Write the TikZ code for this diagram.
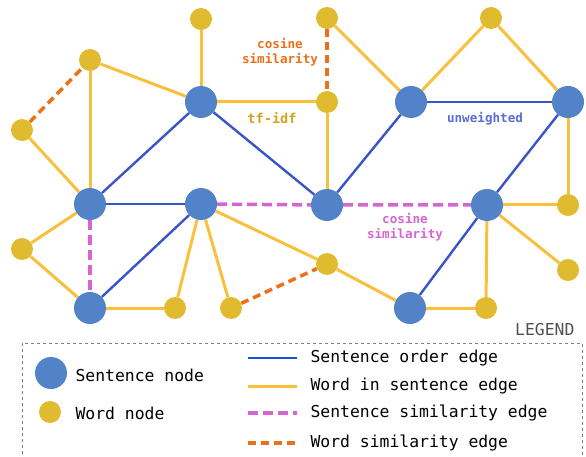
\documentclass[tikz,border=0pt]{standalone}
\usepackage{fontspec}
\setmonofont{DejaVu Sans Mono}
\usetikzlibrary{backgrounds}
\definecolor{sentblue}{HTML}{5282C7}
\definecolor{wordgold}{HTML}{E0BB30}
\definecolor{orderblue}{HTML}{3B55C9}
\definecolor{keyblue}{HTML}{1A4FDB}
\definecolor{wordline}{HTML}{F8C03C}
\definecolor{simpink}{HTML}{D864D4}
\definecolor{simorange}{HTML}{EC7019}
\definecolor{tfidfgold}{HTML}{CFA523}
\definecolor{keygray}{HTML}{505050}
\begin{document}
\begin{tikzpicture}[x=1pt,y=-1pt,
  sent/.style={circle,fill=sentblue,minimum size=32pt,inner sep=0pt},
  word/.style={circle,fill=wordgold,minimum size=22pt,inner sep=0pt},
  order/.style={draw=orderblue,line width=2.4pt},
  keyorder/.style={order,draw=keyblue},
  inword/.style={draw=wordline,line width=3pt},
  sentsim/.style={draw=simpink,line width=3.5pt,dash pattern=on 10pt off 5pt},
  wordsim/.style={draw=simorange,line width=3.5pt,dash pattern=on 8pt off 5pt},
  lbl/.style={font=\ttfamily\bfseries\fontsize{12.6}{15}\selectfont,align=center},
  key/.style={font=\ttfamily\fontsize{16.4}{18}\selectfont,anchor=west}]
\useasboundingbox (0,0) rectangle (586,457);
% sentence and word nodes
\foreach \n/\x/\y in {1/201/102,2/411/102,3/568/102,4/90/204,5/201/204,6/327/205,7/487/205,8/90/308,9/410/308}
  \node[sent] (s\n) at (\x,\y) {};
\foreach \n/\x/\y in {1/201/19,2/327/18,3/491/18,4/90/60,5/22/130,6/327/102,7/22/249,8/175/308,9/231/308,10/327/264,11/568/205,12/568/270,13/486/308}
  \node[word] (w\n) at (\x,\y) {};
% edges go under the nodes
\begin{scope}[on background layer]
\foreach \a/\b in {w1/s1,w4/s1,w6/s1,w4/s4,w5/s4,w7/s4,w7/s8,s8/w8,s5/w8,s5/w9,s5/w10,w10/s9,w6/s6,w2/s2,w3/s2,w3/s3,s3/w11,s7/w11,s7/w12,s7/w13,s9/w13}
  \draw[inword] (\a) -- (\b);
\foreach \a/\b in {s1/s4,s1/s6,s4/s5,s5/s8,s6/s2,s2/s3,s3/s7,s7/s9}
  \draw[order] (\a) -- (\b);
\draw[sentsim] (s5) -- (s6) -- (s7);
\draw[sentsim] (s4) -- (s8);
\foreach \a/\b in {w5/w4,w2/w6,w9/w10}
  \draw[wordsim] (\a) -- (\b);
\end{scope}
% edge weight labels
\node[lbl,text=simorange] (cosw) at (280,52) {cosine\\similarity};
\node[lbl,text=tfidfgold,font=\ttfamily\bfseries\fontsize{13.6}{15}\selectfont] (tfidf) at (272,118) {tf-idf};
\node[lbl,text=orderblue!85!white] (unw) at (485,119) {unweighted};
\node[lbl,text=simpink] (coss) at (405,227) {cosine\\similarity};
% legend
\node[key,text=keygray,anchor=east] (legend) at (578,330) {LEGEND};
\draw[gray,dashed,thin] (22,460) -- (22,343) -- (582,343) -- (582,460);
\node[sent] (ks) at (51,373) {};
\node[key] (kst) at (72,375) {Sentence node};
\node[word] (kw) at (50,412) {};
\node[key] (kwt) at (72,413) {Word node};
\foreach \y/\s/\t in {358/keyorder/Sentence order edge,386/inword/Word in sentence edge,413/sentsim/Sentence similarity edge,443/wordsim/Word similarity edge}{
  \coordinate (k\y) at (248,\y);
  \draw[\s] (k\y) -- ++(49,0);
  \node[key] at (307,\y) {\t};
}
\end{tikzpicture}
\end{document}
